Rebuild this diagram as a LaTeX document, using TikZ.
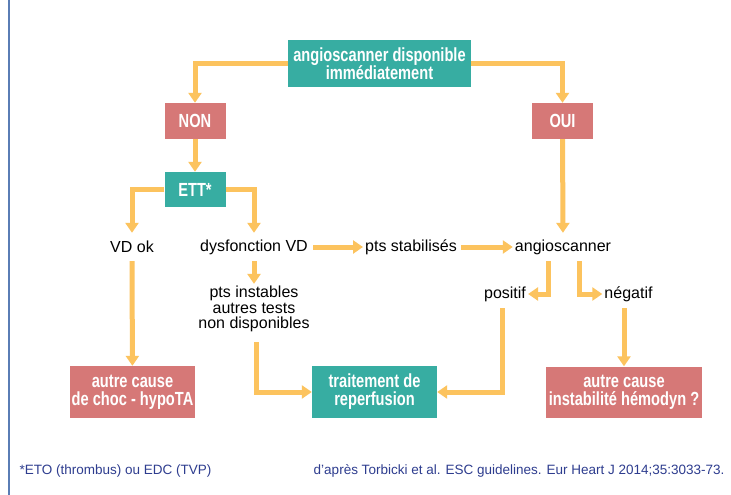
\documentclass[tikz,border=0pt]{standalone}
\usepackage{fontspec}
\setmainfont{Liberation Sans}
\newfontfamily\boxfont[FakeStretch=0.77]{Liberation Sans}
\usetikzlibrary{arrows.meta}
\definecolor{scanteal}{HTML}{37ADA2}
\definecolor{outrose}{HTML}{D67877}
\definecolor{flowyellow}{HTML}{FCC35E}
\definecolor{notenavy}{HTML}{2E3D8F}
\definecolor{rulecolor}{HTML}{5A7DB5}

\begin{document}
\begin{tikzpicture}[x=1pt,y=-1pt,
  box/.style={fill=#1,text=white,align=center,inner sep=0pt,
    font=\boxfont\bfseries\fontsize{19}{18}\selectfont},
  lbl/.style={align=center,inner sep=2pt,minimum height=28pt,
    font=\fontsize{16}{15.5}\selectfont},
  flow/.style={draw=flowyellow,line width=5pt,
    -{Triangle[width=13pt,length=10pt]}}]
  \useasboundingbox[fill=white] (0,0) rectangle (731,495);
  \draw[rulecolor,line width=2.5pt] (9,0) -- (9,495);
  % boxes
  \node[box=scanteal,minimum width=183,minimum height=47] (scan) at (379.5,63.5)
    {angioscanner disponible\\immédiatement};
  \node[box=outrose,minimum width=61,minimum height=36] (non) at (195,121) {NON};
  \node[box=outrose,minimum width=61,minimum height=36] (oui) at (562.5,121) {OUI};
  \node[box=scanteal,minimum width=61,minimum height=35] (ett) at (195,189.5) {ETT*};
  \node[box=outrose,minimum width=125,minimum height=52] (choc) at (132.5,392)
    {autre cause\\de choc - hypoTA};
  \node[box=scanteal,minimum width=125,minimum height=52] (trait) at (374.5,392)
    {traitement de\\reperfusion};
  \node[box=outrose,minimum width=156,minimum height=51] (hemo) at (624,392)
    {autre cause\\instabilité hémodyn ?};
  % plain labels
  \node[lbl] (vdok) at (132,247) {VD ok};
  \node[lbl] (dysf) at (254,247) {dysfonction VD};
  \node[lbl] (stab) at (411,247) {pts stabilisés};
  \node[lbl] (angio) at (563,247) {angioscanner};
  \node[lbl] (instab) at (254,309) {pts instables\\autres tests\\non disponibles};
  \node[lbl] (pos) at (505,294) {positif};
  \node[lbl] (neg) at (628.5,294) {négatif};
  % connectors
  \draw[flow] (scan.west) -| (non.north);
  \draw[flow] (scan.east) -| (oui.north);
  \draw[flow] (non) -- (ett);
  \draw[flow] (ett.west) -| (vdok.north);
  \draw[flow] (ett.east) -| (dysf.north);
  \draw[flow,shorten <=3pt] (dysf.east) -- (stab.west);
  \draw[flow,shorten <=2pt] (stab.east) -- (angio.west);
  \draw[flow] (oui) -- (angio);
  \draw[flow] (dysf) -- (instab);
  \draw[flow] ([xshift=-15]angio.south) |- (pos.east);
  \draw[flow] ([xshift=16]angio.south) |- (neg.west);
  \draw[flow] (vdok) -- (choc);
  \draw[flow,shorten <=8pt] ([xshift=2]instab.south) |- (trait.west);
  \draw[flow] ([xshift=-3]pos.south) |- (trait.east);
  \draw[flow] (neg.south -| hemo.north) -- (hemo.north);
  % footnotes
  \node[anchor=west,text=notenavy,font=\fontsize{13.5}{14}\selectfont] (note) at (16,471)
    {*ETO (thrombus) ou EDC (TVP)};
  \node[anchor=east,text=notenavy,font=\fontsize{13.5}{14}\selectfont] (src) at (728,471)
    {d’après Torbicki et al. ESC guidelines. Eur Heart J 2014;35:3033-73.};
\end{tikzpicture}
\end{document}
